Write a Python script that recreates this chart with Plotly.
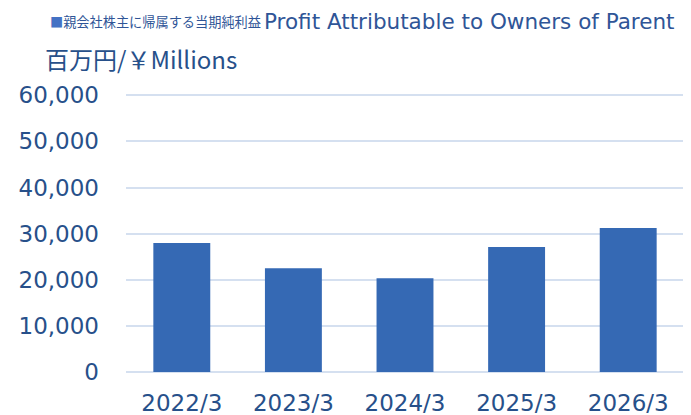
import plotly.graph_objects as go

years = ["2022/3", "2023/3", "2024/3", "2025/3", "2026/3"]
profit = [27950, 22500, 20350, 27100, 31200]
y_ticks = [0, 10000, 20000, 30000, 40000, 50000, 60000]

text_col = "#27508a"
grid_col = "#d5e0f0"

fig = go.Figure()
fig.add_trace(go.Bar(
    x=years, y=profit,
    width=0.51,
    marker=dict(color="#3569b4", line=dict(width=0)),
))

fig.update_layout(
    width=691, height=415,
    margin=dict(l=118, r=15, t=85, b=51, autoexpand=False),
    plot_bgcolor="white", paper_bgcolor="white",
    showlegend=False,
    font=dict(family="DejaVu Sans", color=text_col),
    xaxis=dict(showgrid=False, showline=False, ticks="", automargin=False,
               tickfont=dict(size=23, color=text_col),
               ticklabelstandoff=15),
    yaxis=dict(range=[0, 60500], tickvals=y_ticks, tickformat=",d",
               automargin=False,
               gridcolor=grid_col, gridwidth=2, zeroline=True,
               zerolinecolor=grid_col, zerolinewidth=2,
               tickfont=dict(size=23, color=text_col),
               ticklabelstandoff=26),
)

# title: japanese part + english part
fig.add_annotation(
    xref="paper", yref="paper", x=-0.1398, y=1.2545, xanchor="left", yanchor="middle",
    showarrow=False,
    text="<span style='color:#4472c4'>■</span>親会社株主に帰属する当期純利益",
    font=dict(family="Noto Sans CJK JP", size=13.2, color="#2f5597"),
)
fig.add_annotation(
    xref="paper", yref="paper", x=0.2437, y=1.2545, xanchor="left", yanchor="middle",
    showarrow=False,
    text="Profit Attributable to Owners of Parent",
    font=dict(family="DejaVu Sans", size=21.5, color="#2f5597"),
)
fig.add_annotation(
    xref="paper", yref="paper", x=-0.149, y=1.125, xanchor="left", yanchor="middle",
    showarrow=False,
    text="百万円/￥Millions",
    font=dict(family="Noto Sans CJK JP", size=24, color=text_col),
)

fig.write_html("out.html")
